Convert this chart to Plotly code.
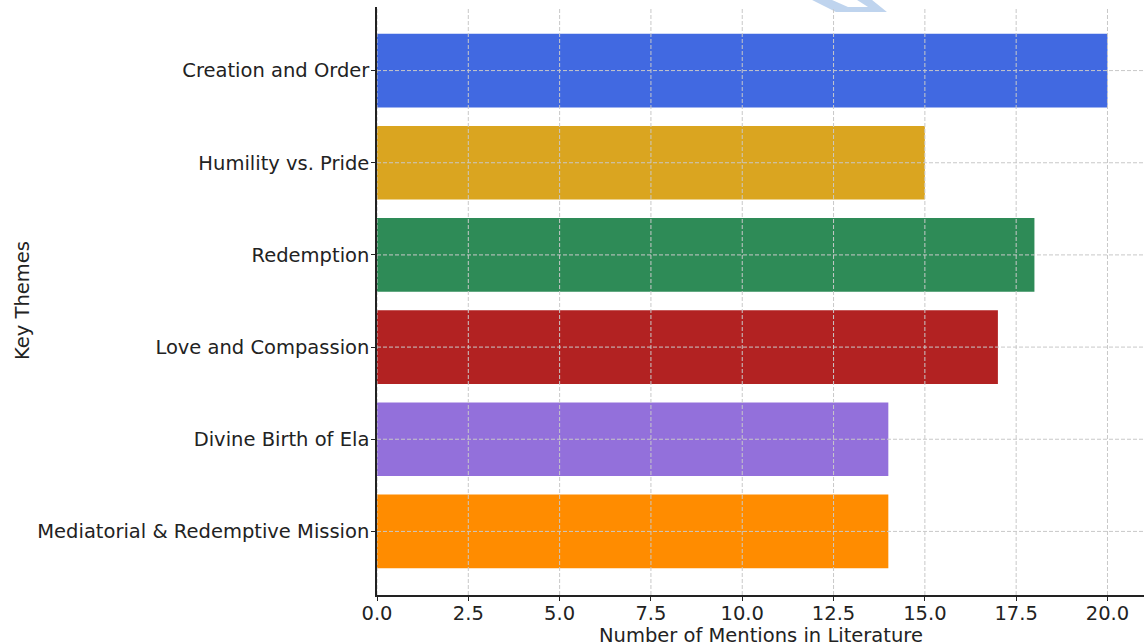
import plotly.graph_objects as go

themes = ["Creation and Order", "Humility vs. Pride", "Redemption",
          "Love and Compassion", "Divine Birth of Ela", "Mediatorial & Redemptive Mission"]
mentions = [20, 15, 18, 17, 14, 14]
colors = ["#4169E1", "#DAA520", "#2E8B57", "#B22222", "#9370DB", "#FF8C00"]
x_ticks = [0, 2.5, 5, 7.5, 10, 12.5, 15, 17.5, 20]
x_tick_labels = ["0.0", "2.5", "5.0", "7.5", "10.0", "12.5", "15.0", "17.5", "20.0"]

fig = go.Figure(go.Bar(
    y=themes, x=mentions, orientation="h", marker=dict(color=colors, line=dict(width=0)),
    width=0.8,
))

font = "DejaVu Sans, Verdana, sans-serif"
grid_color = "#c8c8c8"
fig.update_layout(
    width=1144, height=643,
    margin=dict(l=377, r=0, t=7, b=48),
    plot_bgcolor="white", paper_bgcolor="white",
    font=dict(family=font, size=19.5, color="#222222"),
    showlegend=False,
    xaxis=dict(
        range=[0, 21], tickvals=x_ticks, ticktext=x_tick_labels,
        showgrid=False,
        showline=True, linecolor="#222222", linewidth=1.5,
        ticks="outside", ticklen=4, tickcolor="#222222",
        ticklabelstandoff=-4,
        zeroline=False,
    ),
    yaxis=dict(
        categoryorder="array", categoryarray=themes[::-1],
        range=[-0.69, 5.69],
        showgrid=False,
        showline=True, linecolor="#222222", linewidth=1.5,
        ticks="outside", ticklen=4, tickcolor="#222222",
        ticklabelstandoff=-2,
        zeroline=False,
    ),
)

# dashed grid drawn above the bars
for xv in x_ticks:
    fig.add_shape(type="line", xref="x", yref="paper", x0=xv, x1=xv, y0=0, y1=1,
                  line=dict(color=grid_color, width=1, dash="4px,2px"), layer="above")
for t in themes:
    fig.add_shape(type="line", xref="paper", yref="y", x0=0, x1=1, y0=t, y1=t,
                  line=dict(color=grid_color, width=1, dash="4px,2px"), layer="above")

# axis titles
fig.add_annotation(text="Number of Mentions in Literature", xref="paper", yref="paper",
                   x=0.5, y=0, yshift=-40, xanchor="center", yanchor="middle",
                   showarrow=False, font=dict(size=19.5))
fig.add_annotation(text="Key Themes", xref="paper", yref="paper",
                   x=-0.4628, y=0.5, xanchor="center", yanchor="middle", textangle=-90,
                   showarrow=False, font=dict(size=19.5))

# faint watermark fragment at the top
fig.add_shape(type="path", xref="paper", yref="paper",
              path="M 0.5671 1.0120 L 0.5932 1.0120 L 0.6141 1.0000 L 0.6402 1.0000 "
                   "L 0.6258 1.0120 L 0.6454 1.0120 L 0.6649 0.9915 L 0.5984 0.9915 Z",
              fillcolor="rgba(180,205,235,0.85)", line=dict(width=0), layer="below")

fig.write_html("out.html", config={"displayModeBar": False},
               post_script="document.body.style.margin='0';document.body.style.overflow='hidden';")
